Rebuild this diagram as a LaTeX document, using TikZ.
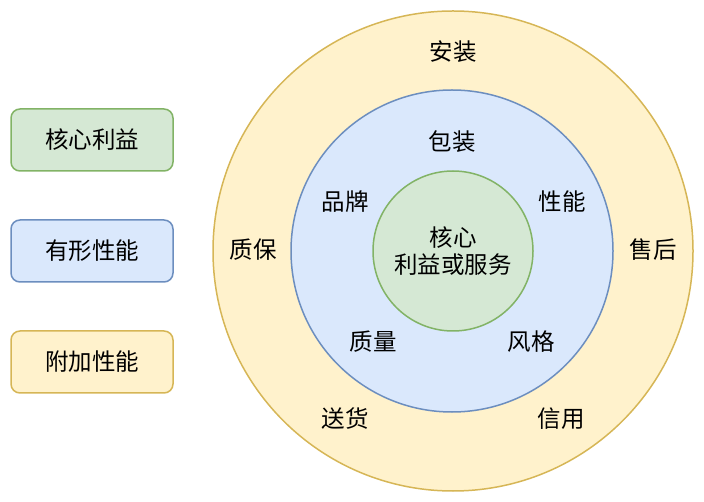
\documentclass[tikz,border=0pt]{standalone}
\usepackage{fontspec}
\newfontfamily\cjk{Noto Sans CJK SC}
\definecolor{gfill}{HTML}{D5E8D4}\definecolor{gline}{HTML}{82B366}
\definecolor{bfill}{HTML}{DAE8FC}\definecolor{bline}{HTML}{6C8EBF}
\definecolor{yfill}{HTML}{FFF2CC}\definecolor{yline}{HTML}{D6B656}
\begin{document}
\begin{tikzpicture}[x=1pt,y=-1pt,
  ring/.style={circle,line width=1.5pt,inner sep=0pt},
  legbox/.style={rounded corners=9pt,line width=1.5pt,minimum width=162pt,minimum height=62pt},
  lbl/.style={font=\cjk\fontsize{23.5}{26.5}\selectfont,text=black,align=center,inner sep=0pt}]
\useasboundingbox (0,0) rectangle (704,502);
\node[ring,fill=yfill,draw=yline,minimum size=480pt] (outer) at (453,251) {};
\node[ring,fill=bfill,draw=bline,minimum size=322pt] (mid) at (452,251) {};
\node[ring,fill=gfill,draw=gline,minimum size=160pt] (inner) at (453,251) {};
\node[lbl] (core) at (453,251) {核心\\利益或服务};
\node[lbl] (t1) at (453,52) {安装};
\node[lbl] (t2) at (452,142) {包装};
\node[lbl] (t3) at (345,202) {品牌};
\node[lbl] (t4) at (562,202) {性能};
\node[lbl] (t5) at (253,250) {质保};
\node[lbl] (t6) at (653,250) {售后};
\node[lbl] (t7) at (373,342) {质量};
\node[lbl] (t8) at (531,342) {风格};
\node[lbl] (t9) at (345,419) {送货};
\node[lbl] (t10) at (561,419) {信用};
\node[legbox,fill=gfill,draw=gline] (l1) at (92,140) {};
\node[legbox,fill=bfill,draw=bline] (l2) at (92,251) {};
\node[legbox,fill=yfill,draw=yline] (l3) at (92,362) {};
\node[lbl] at (l1) {核心利益};
\node[lbl] at (l2) {有形性能};
\node[lbl] at (l3) {附加性能};
\end{tikzpicture}
\end{document}
